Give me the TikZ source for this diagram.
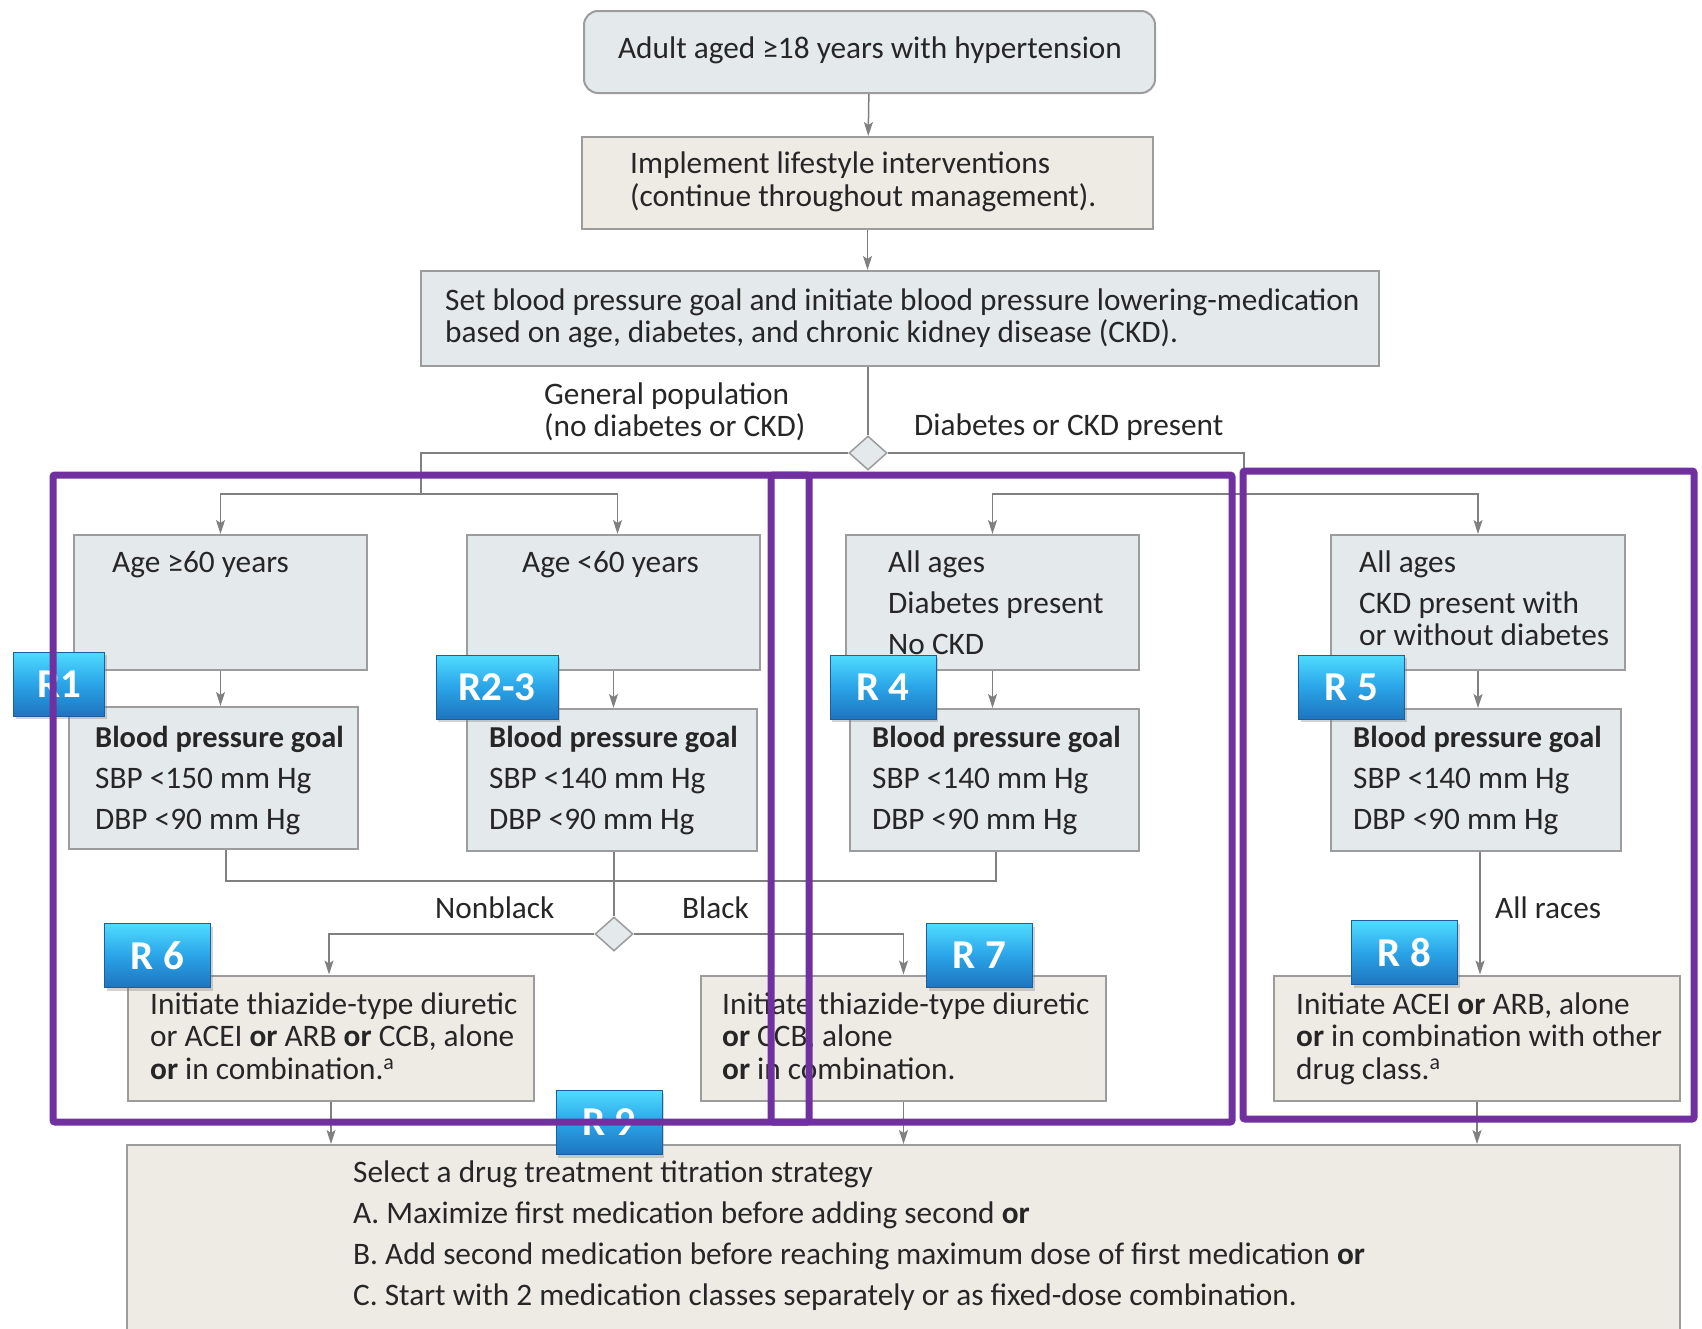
\documentclass[tikz,border=0pt]{standalone}
\usepackage{fontspec}
\setmainfont{Carlito}
\usetikzlibrary{arrows.meta,shapes.geometric,shadows,calc}
\definecolor{boxblue}{HTML}{E4E9EB}
\definecolor{boxbeige}{HTML}{EEEBE5}
\definecolor{boxline}{HTML}{9C9C9C}
\definecolor{conn}{HTML}{808080}
\definecolor{txtc}{HTML}{262626}
\definecolor{purp}{HTML}{7030A0}
\definecolor{badgetop}{HTML}{4FDCFF}
\definecolor{badgemid}{HTML}{2AA4E8}
\definecolor{badgebot}{HTML}{1E74BE}
\definecolor{badgeedge}{HTML}{1B5F9E}
\newcommand\txtblock[2]{{\fontsize{31.3}{#1}\selectfont\begin{tabular}[t]{@{}l@{}}#2\end{tabular}}}
\newcommand\goalhead{{\fontsize{30.4}{41}\selectfont\bfseries Blood pressure goal}}
\begin{document}
\begin{tikzpicture}[x=1pt,y=-1pt,
  bluebox/.style={rectangle, draw=boxline, fill=boxblue, line width=2pt, inner sep=0},
  beigebox/.style={rectangle, draw=boxline, fill=boxbeige, line width=2pt, inner sep=0},
  diam/.style={diamond, draw=boxline, fill=boxblue, line width=1.5pt, minimum width=38pt, minimum height=34pt, inner sep=0},
  txtnode/.style={inner sep=0, text=txtc, font=\fontsize{31.3}{36}\selectfont},
  conline/.style={draw=conn, line width=1.5pt},
  arr/.style={conline, -{Stealth[length=14pt,width=9pt,inset=3pt]}},
  badge/.style={rectangle, minimum width=106pt, minimum height=64pt, top color=badgetop, bottom color=badgebot, middle color=badgemid, draw=badgeedge, line width=1pt, text=white, font=\fontsize{41}{41}\selectfont\bfseries, drop shadow={shadow xshift=2pt, shadow yshift=-3pt, opacity=0.35}, inner sep=0},
  region/.style={draw=purp, line width=7pt, rounded corners=2pt}
]
\useasboundingbox (0,0) rectangle (1702,1328);

% boxes
\node[bluebox, rounded corners=14pt, minimum width=571pt, minimum height=82pt] (top) at (869.5,52) {};
\node[beigebox, minimum width=571pt, minimum height=92pt] (life) at (867.5,183) {};
\node[bluebox, minimum width=958pt, minimum height=95pt] (goal) at (900,318.5) {};
\node[diam] (d1) at (868,453) {};

\node[bluebox, minimum width=293pt, minimum height=135pt] (ageA) at (220.5,602.5) {};
\node[bluebox, minimum width=293pt, minimum height=135pt] (ageB) at (613.5,602.5) {};
\node[bluebox, minimum width=293pt, minimum height=135pt] (diab) at (992.5,602.5) {};
\node[bluebox, minimum width=294pt, minimum height=135pt] (ckd) at (1478,602.5) {};

\node[bluebox, minimum width=289pt, minimum height=142pt] (bp1) at (213.5,778) {};
\node[bluebox, minimum width=290pt, minimum height=142pt] (bp2) at (612,780) {};
\node[bluebox, minimum width=289pt, minimum height=142pt] (bp3) at (994.5,780) {};
\node[bluebox, minimum width=290pt, minimum height=142pt] (bp4) at (1476,780) {};

\node[diam] (d2) at (614,934) {};

\node[beigebox, minimum width=406pt, minimum height=125pt] (r6) at (331,1038) {};
\node[beigebox, minimum width=405pt, minimum height=125pt] (r7) at (903.5,1038) {};
\node[beigebox, minimum width=406pt, minimum height=125pt] (r8) at (1477,1038) {};

\node[beigebox, minimum width=1553pt, minimum height=230pt] (bot) at (903.5,1260) {};

% junction coordinates
\coordinate (jL) at (421,494);
\coordinate (jR) at (1244,494);
\coordinate (m1) at (226,881);
\coordinate (m3) at (996,881);
\coordinate (bB) at ($(ageB.north)+(4,0)$);
\coordinate (b6) at ($(r6.north)+(-2,0)$);
\coordinate (b4s) at ($(bp4.south)+(4,0)$);

% connectors
\draw[arr] (top) -- (life);
\draw[arr] (life) -- (life.south |- goal.north);
\draw[conline] (d1.north |- goal.south) -- (d1.north);
\draw[conline] (d1.west) -| (jL);
\draw[conline] (d1.east) -| (jR);
\draw[arr] (jL) -| (ageA.north);
\draw[arr] (jL) -| (bB);
\draw[arr] (jR) -| (diab.north);
\draw[arr] (jR) -| (ckd.north);

\draw[arr] (ageA.south) -- (ageA.south |- bp1.north);
\draw[arr] (ageB.south) -- (ageB.south |- bp2.north);
\draw[arr] (diab.south) -- (diab.south |- bp3.north);
\draw[arr] (ckd.south) -- (ckd.south |- bp4.north);

\draw[conline] (m1 |- bp1.south) -- (m1) -- (m3) -- (m3 |- bp3.south);
\draw[conline] (d2.north |- bp2.south) -- (d2.north);
\draw[arr] (d2.west) -| (b6);
\draw[arr] (d2.east) -| (r7.north);
\draw[arr] (b4s) -- (b4s |- r8.north);

\draw[arr] (r6.south) -- (r6.south |- bot.north);
\draw[arr] (r7.south) -- (r7.south |- bot.north);
\draw[arr] (r8.south) -- (r8.south |- bot.north);

% texts
\node[txtnode, anchor=base] (ttop) at (870,58) {Adult aged ≥18 years with hypertension};
\node[txtnode, anchor=base west] (tlife) at (630,173) {\txtblock{33}{Implement lifestyle interventions\\(continue throughout management).}};
\node[txtnode, anchor=base west] (tgoal) at (445,310) {\txtblock{32}{Set blood pressure goal and initiate blood pressure lowering-medication\\based on age, diabetes, and chronic kidney disease (CKD).}};
\node[txtnode, anchor=base west] (tgen) at (544,404) {\txtblock{31}{General population\\(no diabetes or CKD)}};
\node[txtnode, anchor=base west] (tdck) at (914,435) {Diabetes or CKD present};

\node[txtnode, anchor=base west] (tageA) at (112,572) {Age ≥60 years};
\node[txtnode, anchor=base west] (tageB) at (522,572) {Age <60 years};
\node[txtnode, anchor=base west] (tdiab) at (888,572) {\txtblock{41}{All ages\\Diabetes present\\No CKD}};
\node[txtnode, anchor=base west] (tckd) at (1359,572) {\txtblock{32}{All ages\\[9pt]CKD present with\\or without diabetes}};

\node[txtnode, anchor=base west] (tbp1) at (95,747) {\txtblock{41}{\goalhead\\SBP <150 mm Hg\\DBP <90 mm Hg}};
\node[txtnode, anchor=base west] (tbp2) at (489,747) {\txtblock{41}{\goalhead\\SBP <140 mm Hg\\DBP <90 mm Hg}};
\node[txtnode, anchor=base west] (tbp3) at (872,747) {\txtblock{41}{\goalhead\\SBP <140 mm Hg\\DBP <90 mm Hg}};
\node[txtnode, anchor=base west] (tbp4) at (1353,747) {\txtblock{41}{\goalhead\\SBP <140 mm Hg\\DBP <90 mm Hg}};

\node[txtnode, anchor=base west] (tnb) at (435,918) {Nonblack};
\node[txtnode, anchor=base west] (tbl) at (682,918) {Black};
\node[txtnode, anchor=base west] (tar) at (1495,918) {All races};

\node[txtnode, anchor=base west] (tr6) at (150,1014) {\txtblock{32.5}{Initiate thiazide-type diuretic\\or ACEI \textbf{or} ARB \textbf{or} CCB, alone\\\textbf{or} in combination.\textsuperscript{a}}};
\node[txtnode, anchor=base west] (tr7) at (722,1014) {\txtblock{32.5}{Initiate thiazide-type diuretic\\\textbf{or} CCB, alone\\\textbf{or} in combination.}};
\node[txtnode, anchor=base west] (tr8) at (1296,1014) {\txtblock{32.5}{Initiate ACEI \textbf{or} ARB, alone\\\textbf{or} in combination with other\\drug class.\textsuperscript{a}}};

\node[txtnode, anchor=base west] (tbot) at (353,1182) {\txtblock{41}{Select a drug treatment titration strategy\\A. Maximize first medication before adding second \textbf{or}\\B. Add second medication before reaching maximum dose of first medication \textbf{or}\\C. Start with 2 medication classes separately or as fixed-dose combination.}};

% badges
\node[badge, minimum width=91pt] (b1) at (59,684) {R1};
\node[badge, minimum width=122pt] (b23) at (497,687) {R2-3};
\node[badge] (b4) at (883,687) {R 4};
\node[badge] (b5) at (1351.5,687) {R 5};
\node[badge] (b6n) at (157.5,955.5) {R 6};
\node[badge] (b7) at (979.5,955.5) {R 7};
\node[badge] (b8) at (1404.5,952.5) {R 8};
\node[badge] (b9) at (609,1122.5) {R 9};

% highlighted regions
\draw[region] (53,475) rectangle (809,1122);
\draw[region] (771,475) rectangle (1232,1122);
\draw[region] (1243,471) rectangle (1694,1119);
\end{tikzpicture}
\end{document}
